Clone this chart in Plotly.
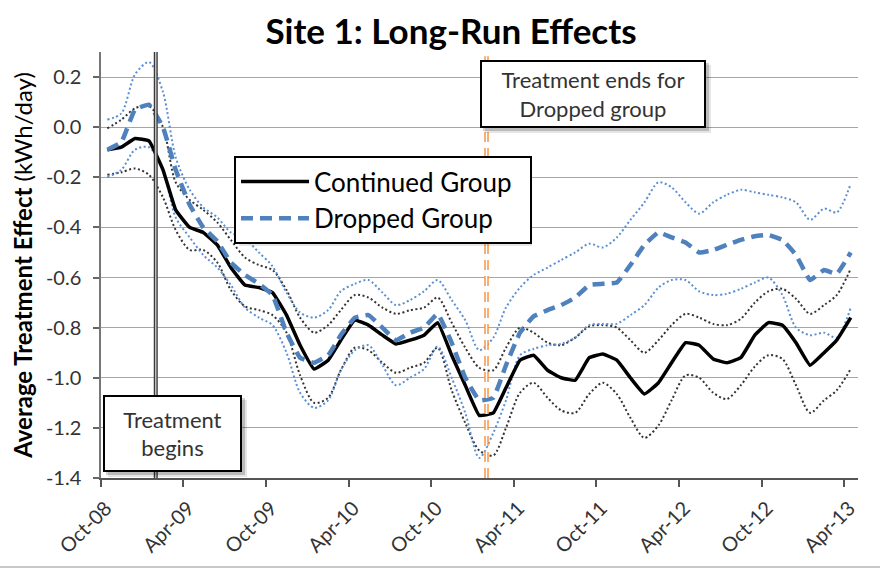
import plotly.graph_objects as go
import pandas as pd

# ---- data ----
months = [d.strftime("%Y-%m-%d") for d in
          (pd.date_range("2008-10-01", periods=55, freq="MS") + pd.Timedelta(days=14))]

continued = [-0.09, -0.08, -0.045, -0.055, -0.17, -0.33, -0.40, -0.42, -0.47, -0.56,
             -0.63, -0.64, -0.66, -0.75, -0.87, -0.965, -0.93, -0.85, -0.77, -0.79,
             -0.83, -0.865, -0.85, -0.83, -0.78, -0.91, -1.03, -1.15, -1.14, -1.04,
             -0.93, -0.91, -0.97, -1.0, -1.01, -0.92, -0.905, -0.93, -1.0, -1.065,
             -1.02, -0.94, -0.86, -0.87, -0.925, -0.94, -0.92, -0.83, -0.78, -0.79,
             -0.86, -0.95, -0.90, -0.85, -0.76]
continued_hi = [-0.005, 0.03, 0.075, 0.085, 0.0, -0.22, -0.29, -0.33, -0.38, -0.45,
                -0.52, -0.55, -0.57, -0.65, -0.76, -0.82, -0.79, -0.73, -0.67, -0.68,
                -0.72, -0.745, -0.73, -0.72, -0.68, -0.78, -0.88, -0.96, -0.97, -0.88,
                -0.80, -0.82, -0.86, -0.87, -0.84, -0.795, -0.79, -0.80, -0.85, -0.90,
                -0.85, -0.79, -0.745, -0.76, -0.785, -0.79, -0.765, -0.70, -0.655, -0.645,
                -0.685, -0.745, -0.71, -0.67, -0.565]
continued_lo = [-0.19, -0.18, -0.165, -0.19, -0.28, -0.41, -0.49, -0.49, -0.54, -0.65,
                -0.715, -0.73, -0.75, -0.82, -0.99, -1.10, -1.08, -0.97, -0.88, -0.89,
                -0.94, -0.98, -0.96, -0.94, -0.88, -1.05, -1.18, -1.29, -1.31, -1.20,
                -1.06, -1.02, -1.08, -1.13, -1.14, -1.065, -1.02, -1.065, -1.16, -1.24,
                -1.19, -1.09, -0.99, -1.0, -1.06, -1.085, -1.03, -0.955, -0.91, -0.925,
                -1.03, -1.14, -1.09, -1.05, -0.965]
dropped = [-0.09, -0.06, 0.07, 0.09, 0.0, -0.17, -0.31, -0.40, -0.455, -0.54,
           -0.59, -0.625, -0.67, -0.82, -0.92, -0.94, -0.91, -0.83, -0.76, -0.75,
           -0.80, -0.85, -0.82, -0.80, -0.745, -0.86, -1.0, -1.09, -1.08, -0.95,
           -0.82, -0.755, -0.73, -0.71, -0.68, -0.63, -0.625, -0.62, -0.55, -0.47,
           -0.42, -0.44, -0.46, -0.50, -0.49, -0.47, -0.45, -0.435, -0.43, -0.45,
           -0.51, -0.61, -0.57, -0.585, -0.50]
dropped_hi = [0.03, 0.055, 0.21, 0.26, 0.14, -0.12, -0.25, -0.32, -0.36, -0.42,
              -0.445, -0.50, -0.555, -0.66, -0.74, -0.76, -0.73, -0.655, -0.625, -0.61,
              -0.66, -0.71, -0.69, -0.655, -0.61, -0.69, -0.77, -0.89, -0.84, -0.72,
              -0.64, -0.59, -0.56, -0.53, -0.50, -0.465, -0.48, -0.44, -0.37, -0.30,
              -0.22, -0.24, -0.30, -0.345, -0.30, -0.27, -0.25, -0.26, -0.27, -0.28,
              -0.30, -0.37, -0.325, -0.34, -0.225]
dropped_lo = [-0.20, -0.17, -0.09, -0.08, -0.17, -0.36, -0.44, -0.51, -0.56, -0.63,
              -0.72, -0.76, -0.79, -0.90, -1.06, -1.12, -1.09, -0.97, -0.89, -0.87,
              -0.95, -1.03, -1.0, -0.965, -0.875, -1.0, -1.14, -1.32, -1.22, -1.09,
              -0.91, -0.885, -0.87, -0.865, -0.84, -0.79, -0.785, -0.785, -0.75, -0.71,
              -0.64, -0.61, -0.61, -0.655, -0.67, -0.665, -0.645, -0.62, -0.60, -0.67,
              -0.80, -0.83, -0.82, -0.84, -0.72]

x_tickvals = ["2008-10-01", "2009-04-01", "2009-10-01", "2010-04-01", "2010-10-01",
              "2011-04-01", "2011-10-01", "2012-04-01", "2012-10-01", "2013-04-01"]
x_ticktext = ["Oct-08", "Apr-09", "Oct-09", "Apr-10", "Oct-10",
              "Apr-11", "Oct-11", "Apr-12", "Oct-12", "Apr-13"]
y_tickvals = [-1.4, -1.2, -1.0, -0.8, -0.6, -0.4, -0.2, 0.0, 0.2]
y_ticktext = ["-1.4", "-1.2", "-1.0", "-0.8", "-0.6", "-0.4", "-0.2", "0.0", "0.2"]

treat_begin = "2009-01-30"
treat_end = "2011-01-31"

BLUE = "#4F81BD"
BLUE_DOT = "#5B8FD3"
FONT = "Lato"
PAD = "\u00a0\u00a0"

fig = go.Figure()

# confidence bands (dotted, smoothed)
for ys in (continued_hi, continued_lo):
    fig.add_trace(go.Scatter(x=months, y=ys, mode="lines", showlegend=False,
                             hoverinfo="skip",
                             line=dict(color="#333333", width=2, dash="2px,2.5px",
                                       shape="spline", smoothing=0.8)))
for ys in (dropped_hi, dropped_lo):
    fig.add_trace(go.Scatter(x=months, y=ys, mode="lines", showlegend=False,
                             hoverinfo="skip",
                             line=dict(color=BLUE_DOT, width=2, dash="2px,2.5px",
                                       shape="spline", smoothing=0.8)))

fig.add_trace(go.Scatter(x=months, y=continued, mode="lines", name="Continued Group" + PAD,
                         legendgroup="a",
                         line=dict(color="black", width=3.5, shape="spline", smoothing=0.3)))
fig.add_trace(go.Scatter(x=months, y=dropped, mode="lines", name="Dropped Group" + PAD,
                         legendgroup="b",
                         line=dict(color=BLUE, width=4.5, dash="12px,7px",
                                   shape="spline", smoothing=0.3)))

PL, PT, PW, PH = 101, 52, 757, 426


def px_x(p):
    return (p - PL) / PW


def px_y(p):
    return (PT + PH - p) / PH


shapes = []
# "treatment begins" double line
shapes.append(dict(type="line", xref="x", yref="paper", x0=treat_begin, x1=treat_begin,
                   y0=0, y1=1, line=dict(color="#3a3a3a", width=4), layer="above"))
shapes.append(dict(type="line", xref="x", yref="paper", x0=treat_begin, x1=treat_begin,
                   y0=0, y1=1, line=dict(color="#c8c8c8", width=1.4), layer="above"))
# "treatment ends" orange outlined dashes
shapes.append(dict(type="line", xref="x", yref="paper", x0=treat_end, x1=treat_end,
                   y0=0, y1=0.99, line=dict(color="#F79646", width=4.5, dash="10px,6px"),
                   layer="above"))
shapes.append(dict(type="line", xref="x", yref="paper", x0=treat_end, x1=treat_end,
                   y0=0, y1=0.99, line=dict(color="white", width=1.5, dash="10px,6px"),
                   layer="above"))

# drop shadows for boxes
boxes = [(480, 60, 706, 128), (103, 395, 242, 472), (234, 156, 527, 241)]
for (l, t, r, b) in boxes:
    for off, a in ((5, 0.10), (3, 0.18)):
        shapes.append(dict(type="rect", xref="paper", yref="paper",
                           x0=px_x(l + off), x1=px_x(r + off),
                           y0=px_y(b + off), y1=px_y(t + off),
                           line=dict(width=0), fillcolor=f"rgba(0,0,0,{a})",
                           layer="above"))
# bottom frame line
shapes.append(dict(type="line", xref="paper", yref="paper", x0=px_x(0), x1=px_x(880),
                   y0=px_y(567), y1=px_y(567), line=dict(color="#c8c8c8", width=2),
                   layer="above"))

annotations = [
    dict(text="Treatment ends for<br>Dropped group", xref="paper", yref="paper",
         x=px_x(480), y=px_y(60), xanchor="left", yanchor="top", showarrow=False,
         width=222, height=64, borderwidth=2, borderpad=0, bordercolor="black",
         bgcolor="white", align="center", valign="middle",
         font=dict(family=FONT, size=22, color="#333")),
    dict(text="Treatment<br>begins", xref="paper", yref="paper",
         x=px_x(103), y=px_y(395), xanchor="left", yanchor="top", showarrow=False,
         width=135, height=73, borderwidth=2, borderpad=0, bordercolor="black",
         bgcolor="white", align="center", valign="middle",
         font=dict(family=FONT, size=22, color="#333")),
]

fig.update_layout(
    width=880, height=570,
    margin=dict(l=PL, r=880 - PL - PW, t=PT, b=570 - PT - PH, autoexpand=False),
    paper_bgcolor="white", plot_bgcolor="white",
    title=dict(text="<b>Site 1: Long-Run Effects</b>", x=451 / 880, xanchor="center",
               y=1 - 32 / 570, yanchor="middle",
               font=dict(family=FONT, size=35, color="black")),
    showlegend=True,
    legend=dict(x=px_x(234), y=px_y(156), xanchor="left", yanchor="top",
                bgcolor="white", bordercolor="black", borderwidth=2,
                font=dict(family=FONT, size=26, color="black"),
                traceorder="grouped", tracegroupgap=0, itemwidth=68),
    shapes=shapes, annotations=annotations,
)

fig.update_xaxes(type="date", range=["2008-10-01", "2013-05-01"], automargin=False,
                 tickvals=x_tickvals, ticktext=x_ticktext, tickangle=-45,
                 ticks="outside", ticklen=7, tickcolor="#555", tickwidth=1.5,
                 showline=True, linecolor="#555", linewidth=1.5,
                 showgrid=False, zeroline=False,
                 ticklabelshift=5, ticklabelstandoff=2,
                 tickfont=dict(family=FONT, size=20, color="#333"))
fig.update_yaxes(range=[-1.4, 0.3], tickvals=y_tickvals, ticktext=y_ticktext,
                 automargin=False,
                 ticks="outside", ticklen=6, tickcolor="#666", tickwidth=1.5,
                 showline=True, linecolor="#777", linewidth=1.5,
                 showgrid=True, gridcolor="#a6a6a6", gridwidth=1, zeroline=False,
                 ticklabelstandoff=8,
                 tickfont=dict(family=FONT, size=20, color="#333"),
                 title=dict(text="<b>Average Treatment Effect</b> (kWh/day)",
                            font=dict(family=FONT, size=24, color="black"),
                            standoff=6))

fig.write_html("out.html", config={"displayModeBar": False},
               post_script="document.body.style.margin='0px';")
